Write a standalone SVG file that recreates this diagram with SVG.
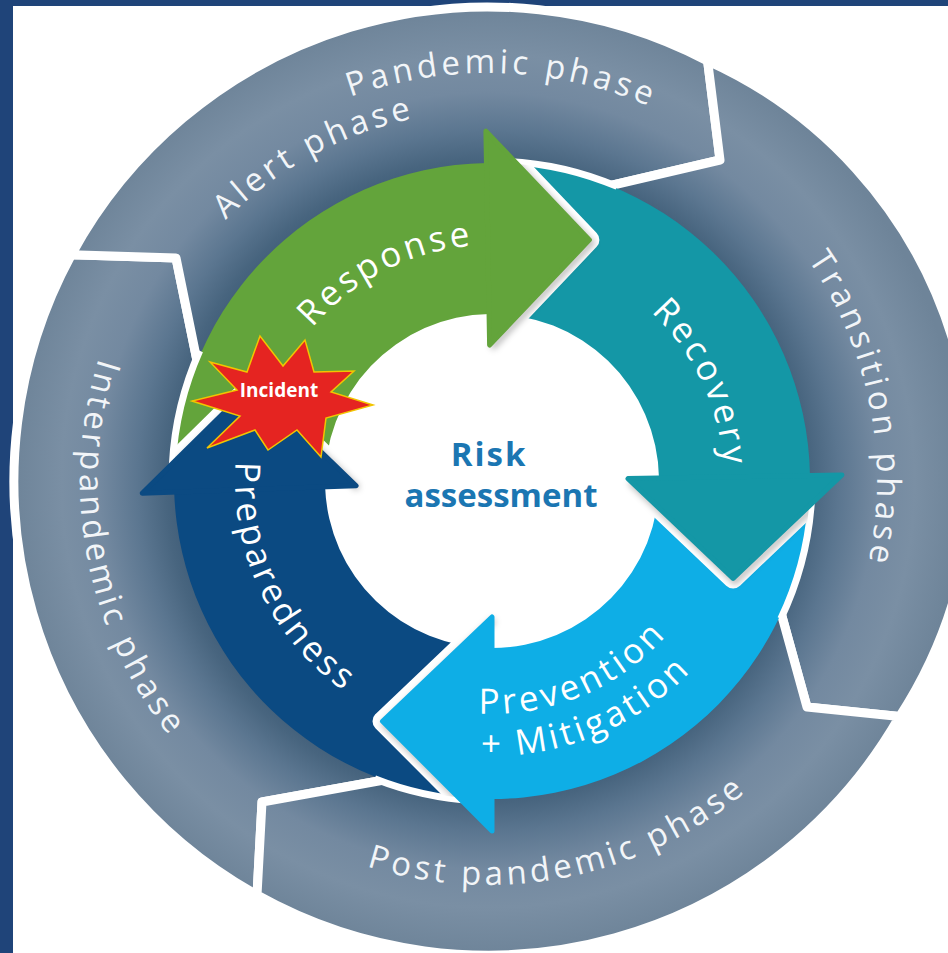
<svg xmlns="http://www.w3.org/2000/svg" width="948" height="953" viewBox="0 0 948 953">
<defs>
<style>
.seg{fill:url(#gray);stroke:#fff;stroke-width:9;stroke-linejoin:round}
.ot{font-family:"Open Sans","DejaVu Sans",sans-serif;font-size:33px;fill:#f2f5f8;letter-spacing:4px}
.it{font-family:"Open Sans","DejaVu Sans",sans-serif;font-size:35px;fill:#ffffff;letter-spacing:3.5px}
.wo{fill:none;stroke:#fff;stroke-width:20;stroke-linejoin:round;stroke-linecap:round}
.sh{fill:none;stroke:#000;stroke-opacity:0.28;stroke-width:6;filter:url(#blur)}
.gap{fill:none;stroke:#fff;stroke-width:7}
.hd{stroke-width:5;stroke-linejoin:round}
.ct{font-family:"Open Sans","DejaVu Sans",sans-serif;font-weight:700;font-size:33px;fill:#1b76b2}
</style>
<radialGradient id="gray" gradientUnits="userSpaceOnUse" cx="488" cy="481" r="474">
<stop offset="0.63" stop-color="#3c5a76"/>
<stop offset="0.68" stop-color="#48657f"/>
<stop offset="0.74" stop-color="#5b7690"/>
<stop offset="0.82" stop-color="#7389a0"/>
<stop offset="0.9" stop-color="#7a8fa4"/>
<stop offset="1" stop-color="#6e8499"/>
</radialGradient>
<clipPath id="ring"><circle cx="492" cy="481" r="318"/></clipPath>
<filter id="blur" x="-20%" y="-20%" width="140%" height="140%"><feGaussianBlur stdDeviation="3"/></filter>
<path id="pAlert" d="M121.8,534.1 A370,370 0 0 1 734.6,205.2"/>
<path id="pPandemic" d="M109.7,328.2 A408,408 0 0 1 876,354.9"/>
<path id="pTransition" d="M548.2,96.7 A389,389 0 0 1 688.9,814.1"/>
<path id="pPost" d="M142.8,690.9 A404,404 0 0 0 887.3,542.1"/>
<path id="pInter" d="M279,130.6 A408,408 0 0 0 422.8,883.8"/>
<path id="pResponse" d="M257.8,509.8 A236,236 0 0 1 653,308.4"/>
<path id="pRecovery" d="M471.8,249.9 A232,232 0 0 1 656,645"/>
<path id="pPrep" d="M308.7,300.9 A257,257 0 0 0 516.6,736.8"/>
<path id="pPrev" d="M321.1,639.3 A233,233 0 0 0 724.7,469.6"/>
<path id="pMitig" d="M288.3,665.7 A275,275 0 0 0 766.8,470.4"/>
</defs>

<rect x="0" y="0" width="948" height="953" fill="#1f4479"/>
<rect x="13" y="6" width="935" height="947" fill="#ffffff"/>

<g id="outer-ring">
  <g id="interpandemic-phase">
    <path class="seg" d="M257,895 A474,474 0 0 1 71.4,254.8 L176,258 L195.2,351.9 L202,386 A300,300 0 0 0 420,773.5 L373,782 L262,802 Z"/>
  </g>
  <g id="alert-pandemic-phase">
    <path class="seg" d="M71.4,254.8 A474,474 0 0 1 707.6,60.9 L720,160 L613,185 L574,194 A300,300 0 0 0 202,386 L195.2,351.9 L176,258 Z"/>
  </g>
  <g id="transition-phase">
    <path class="seg" d="M707.6,60.9 A450,450 0 0 1 899.5,716.6 L807,707 L783,620 L772,580 A300,300 0 0 0 574,194 L613,185 L720,160 Z"/>
  </g>
  <g id="post-pandemic-phase">
    <path class="seg" d="M899.5,716.6 A474,474 0 0 1 257,895 L262,802 L373,782 L420,773.5 A300,300 0 0 0 772,580 L783,620 L807,707 Z"/>
  </g>
</g>

<g id="inner-ring">
  <g id="response"><path fill="#63a43b" d="M174.2,492.1 A318,318 0 0 1 486.5,163 L489.1,314 A167,167 0 0 0 325.1,486.8 Z"/></g>
  <g id="recovery"><path fill="#1497a6" d="M486.5,163 A318,318 0 0 1 810,475.5 L659,478.1 A167,167 0 0 0 489.1,314 Z"/></g>
  <g id="prevention-mitigation"><path fill="#0eaee6" d="M810,475.5 A318,318 0 0 1 492,799 L492,648 A167,167 0 0 0 659,478.1 Z"/></g>
  <g id="preparedness"><path fill="#0b4a82" d="M492,799 A318,318 0 0 1 174.2,492.1 L325.1,486.8 A167,167 0 0 0 492,648 Z"/></g>
</g>

<g id="separators">
  <path class="gap" d="M172.4,464.3 A320,320 0 0 1 199.7,350.8"/>
  <path class="gap" d="M503.2,161.2 A320,320 0 0 1 617,186.4"/>
  <path class="gap" d="M811.6,497.7 A320,320 0 0 1 780.8,618.8"/>
  <path class="gap" d="M475.3,800.6 A320,320 0 0 1 374.7,778.7"/>
</g>

<g id="connectors">
  <g clip-path="url(#ring)">
    <path class="wo" d="M485.9,131.1 L589.4,239.9 L489.6,345"/>
    <path class="wo" d="M841.9,474.9 L733.1,578.4 L628,478.6"/>
    <path class="wo" d="M492,831 L382.5,721.2 L492,617"/>
    <path class="wo" d="M142.2,493.2 L252,385 L356.1,485.7"/>
    <path class="sh" transform="translate(2,3)" d="M485.9,131.1 L589.4,239.9 L489.6,345"/>
    <path class="sh" transform="translate(2,3)" d="M841.9,474.9 L733.1,578.4 L628,478.6"/>
    <path class="sh" transform="translate(2,3)" d="M492,831 L382.5,721.2 L492,617"/>
    <path class="sh" transform="translate(2,3)" d="M142.2,493.2 L252,385 L356.1,485.7"/>
  </g>
  <path class="hd" fill="#63a43b" stroke="#63a43b" d="M485.9,131.1 L589.4,239.9 L489.6,345 Z"/>
  <path class="hd" fill="#1497a6" stroke="#1497a6" d="M841.9,474.9 L733.1,578.4 L628,478.6 Z"/>
  <path class="hd" fill="#0eaee6" stroke="#0eaee6" d="M492,831 L382.5,721.2 L492,617 Z"/>
  <path class="hd" fill="#0b4a82" stroke="#0b4a82" d="M142.2,493.2 L252,385 L356.1,485.7 Z"/>
</g>

<g id="labels">
  <text class="ot" text-anchor="middle"><textPath href="#pAlert" startOffset="50%">Alert phase</textPath></text>
  <text class="ot" text-anchor="middle"><textPath href="#pPandemic" startOffset="50%">Pandemic phase</textPath></text>
  <text class="ot" text-anchor="middle"><textPath href="#pTransition" startOffset="50%">Transition phase</textPath></text>
  <text class="ot" text-anchor="middle"><textPath href="#pPost" startOffset="50%">Post pandemic phase</textPath></text>
  <text class="ot" text-anchor="middle"><textPath href="#pInter" startOffset="50%">Interpandemic phase</textPath></text>
  <text class="it" text-anchor="middle"><textPath href="#pResponse" startOffset="50%">Response</textPath></text>
  <text class="it" text-anchor="middle"><textPath href="#pRecovery" startOffset="50%">Recovery</textPath></text>
  <text class="it" text-anchor="middle"><textPath href="#pPrep" startOffset="50%">Preparedness</textPath></text>
  <text class="it" text-anchor="middle"><textPath href="#pPrev" startOffset="50%">Prevention</textPath></text>
  <text class="it" text-anchor="middle"><textPath href="#pMitig" startOffset="50%">+ Mitigation</textPath></text>
</g>

<g id="risk-assessment">
  <text class="ct" x="489" y="466" text-anchor="middle" letter-spacing="2">Risk</text>
  <text class="ct" x="501" y="507" text-anchor="middle">assessment</text>
</g>

<g id="incident">
  <polygon fill="#e52421" stroke="#f2c500" stroke-width="1.5" points="210,362 247,372 260,336 283,366 305,340 314,372 354,371 331,392 373,405 326,418 321,457 297,430 268,450 255,430 207,448 240,416 192,401 237,390"/>
  <text x="279" y="397" text-anchor="middle" font-family="Open Sans, DejaVu Sans, sans-serif" font-weight="700" font-size="19" fill="#ffffff">Incident</text>
</g>
</svg>
